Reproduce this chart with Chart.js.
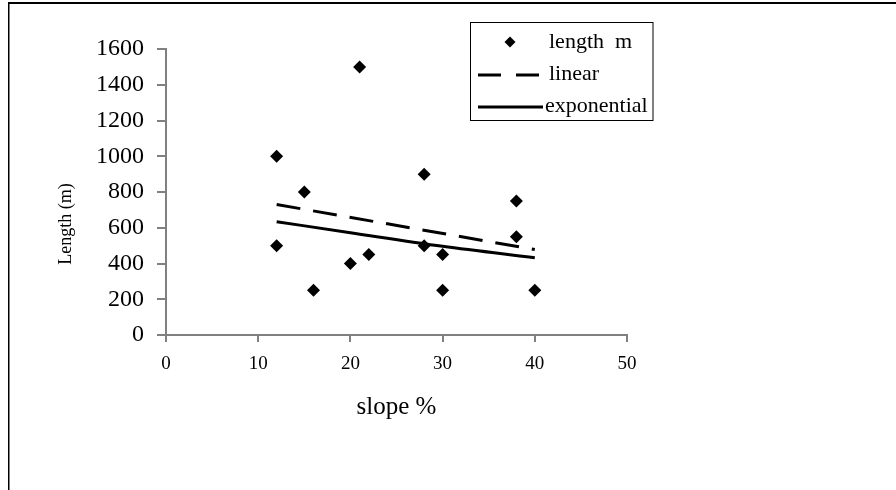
<!DOCTYPE html>
<html>
<head>
<meta charset="utf-8">
<script src="https://cdn.jsdelivr.net/npm/chart.js@4.4.1/dist/chart.umd.min.js"></script>
<style>
  html, body { margin: 0; padding: 0; background: #fff; }
  #wrap { width: 896px; height: 490px; position: relative; }
</style>
</head>
<body>
<div id="wrap"><canvas id="c" width="896" height="490"></canvas></div>
<script>
// ---- data ----
const slopeX   = [12, 12, 15, 16, 20, 21, 22, 28, 28, 30, 30, 38, 38, 40];
const lengthM  = [1000, 500, 800, 250, 400, 1500, 450, 900, 500, 450, 250, 750, 550, 250];
const linearX  = [12, 40];
const linearY  = [730, 478];
const expX     = [12, 20, 30, 40];
const expY     = [634, 572, 496, 432];
const seriesLabels = ['length  m', 'linear', 'exponential'];
const xAxisTitle = 'slope %';
const yAxisTitle = 'Length (m)';
const xRange = [0, 50, 10];
const yRange = [0, 1600, 200];

const SERIF = "'Liberation Serif', 'Times New Roman', serif";
const AXIS = '#808080';

function pts(xs, ys) { return xs.map((x, i) => ({ x: x, y: ys[i] })); }

const framePlugin = {
  id: 'frame',
  afterDraw(chart) {
    const ctx = chart.ctx;
    ctx.save();
    ctx.fillStyle = '#000';
    ctx.fillRect(8, 2, 888, 2);
    ctx.fillRect(8, 2, 1.5, 488);
    // y axis title (placed like the reference, slightly below the axis centre)
    ctx.translate(66, 224);
    ctx.rotate(-Math.PI / 2);
    ctx.font = '18px ' + SERIF;
    ctx.textAlign = 'center';
    ctx.textBaseline = 'middle';
    ctx.fillText(yAxisTitle, 0, 0);
    ctx.restore();
  }
};

const legendPlugin = {
  id: 'customLegend',
  afterDraw(chart) {
    const ctx = chart.ctx;
    const ds = chart.data.datasets;
    ctx.save();
    ctx.fillStyle = '#fff';
    ctx.fillRect(470.5, 22.5, 182.5, 98);
    ctx.strokeStyle = '#000';
    ctx.lineWidth = 1;
    ctx.strokeRect(470.5, 22.5, 182.5, 98);
    ctx.font = '22px ' + SERIF;
    ctx.fillStyle = '#000';
    ctx.textBaseline = 'middle';
    ctx.textAlign = 'left';
    // item 1: diamond
    const r = 5.5, cx = 510, cy = 42;
    ctx.beginPath();
    ctx.moveTo(cx, cy - r); ctx.lineTo(cx + r, cy); ctx.lineTo(cx, cy + r); ctx.lineTo(cx - r, cy);
    ctx.closePath(); ctx.fill();
    ctx.fillText(ds[0].label, 549, 42);
    // item 2: dashed
    ctx.strokeStyle = '#000';
    ctx.lineWidth = 3;
    ctx.setLineDash([23, 15]);
    ctx.beginPath(); ctx.moveTo(478, 75); ctx.lineTo(541, 75); ctx.stroke();
    ctx.setLineDash([]);
    ctx.fillText(ds[1].label, 549, 74);
    // item 3: solid
    ctx.beginPath(); ctx.moveTo(478, 107); ctx.lineTo(543, 107); ctx.stroke();
    ctx.fillText(ds[2].label, 545, 106);
    ctx.restore();
  }
};

new Chart(document.getElementById('c'), {
  type: 'scatter',
  data: {
    datasets: [
      {
        label: seriesLabels[0],
        data: pts(slopeX, lengthM),
        pointStyle: 'rectRot',
        pointRadius: 6.5,
        pointHoverRadius: 6.5,
        backgroundColor: '#000',
        borderColor: '#000',
        borderWidth: 0,
        showLine: false,
        order: 0
      },
      {
        label: seriesLabels[1],
        data: pts(linearX, linearY),
        showLine: true,
        borderColor: '#000',
        borderWidth: 3,
        borderDash: [24, 13],
        pointRadius: 0,
        fill: false,
        order: 1
      },
      {
        label: seriesLabels[2],
        data: pts(expX, expY),
        showLine: true,
        borderColor: '#000',
        borderWidth: 3,
        pointRadius: 0,
        cubicInterpolationMode: 'monotone',
        fill: false,
        order: 2
      }
    ]
  },
  options: {
    responsive: false,
    animation: false,
    events: [],
    layout: { padding: { left: 0, top: 49, right: 269, bottom: 0 } },
    plugins: { legend: { display: false }, tooltip: { enabled: false } },
    scales: {
      x: {
        type: 'linear',
        min: xRange[0], max: xRange[1],
        ticks: { stepSize: xRange[2], color: '#000', font: { family: SERIF, size: 19 }, padding: 11, maxRotation: 0,
                 callback: (v) => String(v) },
        grid: { display: true, drawOnChartArea: false, drawTicks: true, tickLength: 7, color: AXIS, lineWidth: 2 },
        border: { display: true, color: AXIS, width: 2 },
        title: { display: true, text: xAxisTitle, color: '#000', font: { family: SERIF, size: 25 }, padding: { top: 0, bottom: 68 } },
        afterFit(scale) { scale.height = 155; }
      },
      y: {
        type: 'linear',
        min: yRange[0], max: yRange[1],
        ticks: { stepSize: yRange[2], color: '#000', font: { family: SERIF, size: 24 }, padding: 13,
                 callback: (v) => String(v) },
        grid: { display: true, drawOnChartArea: false, drawTicks: true, tickLength: 9, color: AXIS, lineWidth: 2 },
        border: { display: true, color: AXIS, width: 2 },
        title: { display: false },
        afterFit(scale) { scale.width = 166; }
      }
    }
  },
  plugins: [framePlugin, legendPlugin]
});
</script>
</body>
</html>
